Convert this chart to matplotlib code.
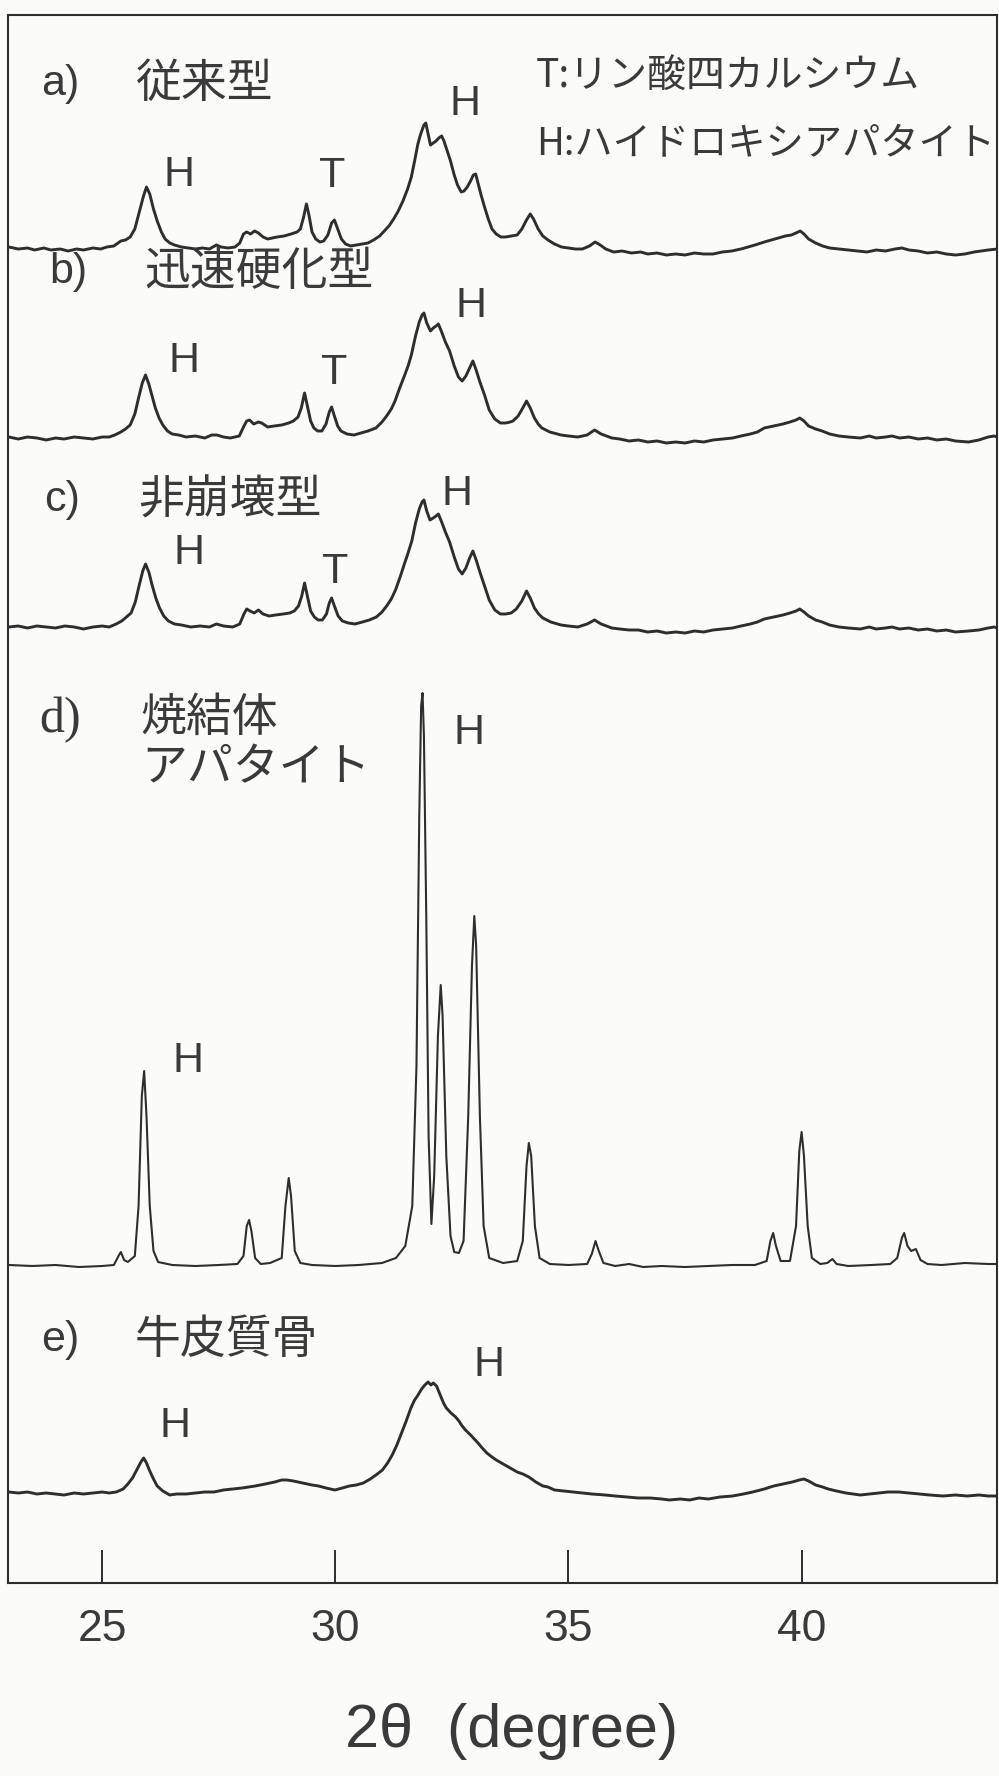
"""
XRD patterns of calcium phosphate cements, sintered apatite and bovine cortical bone
(2theta 23-44 deg), stacked traces with peak markers.
"""

import numpy as np
import matplotlib
matplotlib.use("Agg")
import matplotlib.pyplot as plt

plt.rcParams["font.family"] = ["Noto Sans CJK JP", "DejaVu Sans"]

INK = "#2e2e2e"
TXT = "#3a3a3a"

# --- traces: (2theta [deg], height above own baseline [px]) ---
a_pts = [(23.0, 2), (23.2, 0), (23.4, 1), (23.55, -1), (23.75, 1), (23.9, -1), (24.1, 0), (24.27, -2),
         (24.45, 0), (24.6, -1), (24.8, 1), (24.97, 0), (25.1, 2), (25.25, 3), (25.4, 8), (25.5, 9),
         (25.6, 12), (25.7, 20), (25.8, 38), (25.88, 52), (25.95, 62), (26.02, 55), (26.1, 40),
         (26.18, 28), (26.27, 17), (26.35, 10), (26.45, 6), (26.55, 4), (26.7, 2), (26.85, 1),
         (27.0, 0), (27.15, 1), (27.3, 0), (27.45, 4), (27.55, 2), (27.7, 1), (27.85, 2), (27.95, 6),
         (28.03, 15), (28.1, 17), (28.18, 15), (28.27, 18), (28.35, 16), (28.45, 12), (28.55, 10),
         (28.65, 11), (28.75, 12), (28.9, 13), (29.05, 15), (29.18, 17), (29.25, 20), (29.32, 32),
         (29.38, 45), (29.43, 35), (29.5, 17), (29.58, 10), (29.67, 7), (29.75, 8), (29.84, 14),
         (29.92, 26), (29.98, 29), (30.05, 20), (30.13, 10), (30.22, 5), (30.33, 3), (30.45, 4),
         (30.58, 5), (30.7, 6), (30.82, 9), (30.95, 13), (31.05, 18), (31.15, 23), (31.25, 30),
         (31.35, 38), (31.45, 48), (31.55, 60), (31.63, 72), (31.7, 88), (31.77, 105), (31.83, 115),
         (31.9, 124), (31.94, 126), (31.99, 115), (32.04, 104), (32.1, 106), (32.16, 108),
         (32.22, 111), (32.28, 113), (32.33, 108), (32.4, 98), (32.47, 88), (32.55, 74), (32.62, 64),
         (32.7, 57), (32.76, 58), (32.83, 62), (32.9, 68), (32.96, 74), (33.01, 75), (33.06, 66),
         (33.12, 55), (33.2, 42), (33.28, 30), (33.36, 20), (33.45, 15), (33.55, 12), (33.65, 12),
         (33.78, 13), (33.9, 14), (34.0, 20), (34.1, 29), (34.18, 35), (34.25, 30), (34.35, 20),
         (34.45, 13), (34.56, 9), (34.7, 5), (34.85, 2), (35.0, 1), (35.15, 0), (35.3, 0), (35.45, 3),
         (35.57, 7), (35.68, 4), (35.8, 0), (35.97, -3), (36.15, -2), (36.35, -4), (36.55, -3),
         (36.7, -5), (36.9, -4), (37.1, -6), (37.3, -5), (37.5, -6), (37.7, -4), (37.9, -5),
         (38.1, -5), (38.3, -3), (38.5, -2), (38.7, 0), (38.85, 2), (39.0, 4), (39.2, 7), (39.35, 9),
         (39.5, 11), (39.65, 13), (39.78, 14), (39.88, 16), (39.97, 18), (40.05, 15), (40.15, 10),
         (40.3, 6), (40.45, 3), (40.6, 1), (40.8, 0), (41.0, -1), (41.2, -2), (41.4, -3), (41.6, -1),
         (41.8, -2), (42.0, 0), (42.15, 1), (42.3, -1), (42.5, -2), (42.7, -4), (42.9, -3),
         (43.1, -5), (43.3, -6), (43.5, -5), (43.7, -3), (43.85, -2), (44.0, -1), (44.2, 0)]

b_pts = [(23.0, 1), (23.2, -1), (23.4, 1), (23.6, 0), (23.8, -2), (24.0, 0), (24.18, -1), (24.4, 1),
         (24.6, 0), (24.8, -1), (25.0, 1), (25.15, 1), (25.27, 3), (25.4, 6), (25.5, 9), (25.6, 13),
         (25.7, 24), (25.78, 40), (25.86, 55), (25.93, 63), (26.0, 54), (26.07, 42), (26.14, 30),
         (26.22, 20), (26.3, 13), (26.4, 7), (26.5, 4), (26.64, 3), (26.8, 1), (27.0, 2), (27.2, 0),
         (27.35, 3), (27.46, 3), (27.6, 1), (27.75, 0), (27.94, 2), (28.04, 12), (28.1, 17),
         (28.16, 18), (28.25, 14), (28.35, 16), (28.42, 15), (28.55, 11), (28.69, 12), (28.85, 13),
         (29.0, 15), (29.1, 17), (29.2, 21), (29.27, 30), (29.34, 45), (29.4, 32), (29.47, 17),
         (29.54, 10), (29.62, 7), (29.71, 7), (29.8, 14), (29.87, 26), (29.92, 31), (29.98, 22),
         (30.05, 12), (30.12, 7), (30.25, 4), (30.4, 3), (30.55, 5), (30.7, 7), (30.87, 10),
         (31.0, 16), (31.1, 22), (31.2, 29), (31.28, 37), (31.38, 50), (31.48, 62), (31.56, 72),
         (31.63, 83), (31.72, 102), (31.8, 116), (31.86, 123), (31.9, 125), (31.96, 115),
         (32.04, 107), (32.1, 110), (32.16, 112), (32.21, 114), (32.28, 106), (32.36, 96),
         (32.45, 87), (32.55, 72), (32.64, 61), (32.72, 57), (32.8, 62), (32.88, 70), (32.95, 77),
         (33.02, 68), (33.1, 56), (33.2, 43), (33.3, 28), (33.42, 19), (33.54, 15), (33.65, 15),
         (33.75, 16), (33.81, 17), (33.92, 22), (34.02, 30), (34.1, 37), (34.18, 30), (34.27, 20),
         (34.35, 14), (34.43, 10), (34.6, 6), (34.84, 3), (35.0, 2), (35.2, 1), (35.4, 3),
         (35.56, 8), (35.7, 4), (35.93, 0), (36.1, -1), (36.3, -3), (36.5, -2), (36.7, -4),
         (36.9, -3), (37.1, -5), (37.3, -4), (37.5, -5), (37.7, -3), (37.9, -4), (38.1, -2),
         (38.3, -1), (38.52, 0), (38.7, 2), (38.9, 4), (39.05, 6), (39.2, 10), (39.4, 12),
         (39.6, 14), (39.75, 16), (39.88, 18), (39.96, 20), (40.05, 17), (40.15, 12), (40.3, 9),
         (40.44, 7), (40.6, 4), (40.8, 2), (41.0, 1), (41.26, 0), (41.45, 2), (41.6, 0), (41.8, 1),
         (41.94, 2), (42.1, 0), (42.3, 1), (42.5, -1), (42.7, 0), (42.9, -2), (43.1, -1),
         (43.3, -3), (43.58, -4), (43.8, -2), (44.0, 1), (44.13, 2), (44.2, 1)]

c_pts = [(23.0, 0), (23.2, 1), (23.4, -1), (23.6, 1), (23.8, 0), (24.0, -1), (24.2, 1), (24.4, 0),
         (24.6, -2), (24.8, 0), (25.0, 1), (25.15, 0), (25.3, 3), (25.42, 6), (25.52, 10),
         (25.62, 14), (25.71, 25), (25.79, 41), (25.87, 56), (25.93, 63), (26.0, 55), (26.07, 42),
         (26.15, 29), (26.23, 19), (26.32, 11), (26.42, 6), (26.55, 3), (26.7, 2), (26.9, 0),
         (27.1, 1), (27.3, 0), (27.45, 3), (27.6, 1), (27.8, 0), (27.95, 3), (28.04, 13),
         (28.1, 18), (28.17, 16), (28.26, 14), (28.35, 17), (28.45, 13), (28.58, 11), (28.72, 12),
         (28.88, 13), (29.02, 14), (29.12, 16), (29.21, 21), (29.28, 31), (29.34, 44), (29.4, 31),
         (29.47, 16), (29.55, 10), (29.63, 7), (29.72, 7), (29.81, 13), (29.87, 24), (29.92, 29),
         (29.98, 21), (30.06, 11), (30.15, 6), (30.28, 4), (30.42, 3), (30.58, 5), (30.73, 7),
         (30.88, 10), (31.0, 15), (31.1, 21), (31.2, 28), (31.29, 37), (31.39, 50), (31.48, 63),
         (31.56, 74), (31.64, 86), (31.72, 104), (31.8, 118), (31.86, 125), (31.9, 127),
         (31.96, 116), (32.03, 107), (32.1, 109), (32.16, 111), (32.21, 113), (32.28, 105),
         (32.36, 95), (32.45, 85), (32.55, 70), (32.64, 58), (32.72, 53), (32.8, 59), (32.88, 69),
         (32.95, 76), (33.02, 67), (33.1, 55), (33.2, 41), (33.3, 27), (33.42, 17), (33.54, 13),
         (33.65, 13), (33.77, 14), (33.88, 18), (34.0, 26), (34.1, 36), (34.18, 29), (34.27, 19),
         (34.36, 13), (34.45, 9), (34.62, 5), (34.84, 2), (35.0, 1), (35.2, 0), (35.4, 3),
         (35.56, 7), (35.7, 3), (35.93, -1), (36.1, -2), (36.3, -3), (36.5, -3), (36.7, -5),
         (36.9, -4), (37.1, -6), (37.3, -5), (37.5, -6), (37.7, -4), (37.9, -5), (38.1, -3),
         (38.3, -2), (38.52, -1), (38.7, 1), (38.9, 3), (39.05, 5), (39.2, 8), (39.4, 10),
         (39.6, 12), (39.75, 14), (39.88, 16), (39.96, 18), (40.05, 15), (40.15, 11), (40.3, 7),
         (40.44, 5), (40.6, 2), (40.8, 0), (41.0, -1), (41.26, -2), (41.45, 0), (41.6, -2),
         (41.8, -1), (41.94, 0), (42.1, -2), (42.3, -1), (42.5, -3), (42.7, -2), (42.9, -4),
         (43.1, -3), (43.3, -5), (43.58, -4), (43.8, -3), (44.0, -1), (44.13, 0), (44.2, -1)]

d_pts = [(23.0, 1), (23.5, 0), (24.0, 1), (24.5, -1), (25.0, 0), (25.25, 1), (25.35, 10), (25.4, 14),
         (25.47, 6), (25.55, 4), (25.7, 10), (25.78, 60), (25.85, 170), (25.9, 195), (25.95, 150),
         (26.02, 60), (26.1, 15), (26.2, 4), (26.5, 1), (27.0, 0), (27.5, 1), (27.9, 2), (28.03, 10),
         (28.1, 40), (28.15, 46), (28.2, 35), (28.28, 8), (28.4, 2), (28.6, 3), (28.85, 8),
         (28.93, 60), (29.0, 88), (29.05, 70), (29.13, 15), (29.25, 3), (29.5, 1), (30.0, 0),
         (30.5, 1), (31.0, 3), (31.3, 8), (31.5, 20), (31.65, 60), (31.74, 200), (31.8, 450),
         (31.84, 560), (31.87, 573), (31.9, 530), (31.95, 350), (32.0, 130), (32.06, 42),
         (32.12, 90), (32.2, 230), (32.26, 281), (32.3, 250), (32.38, 110), (32.47, 30),
         (32.55, 14), (32.65, 13), (32.75, 25), (32.85, 150), (32.93, 300), (32.98, 350),
         (33.02, 320), (33.1, 150), (33.18, 40), (33.3, 8), (33.6, 3), (33.9, 5), (34.02, 25),
         (34.1, 100), (34.15, 123), (34.2, 110), (34.28, 40), (34.38, 8), (34.6, 2), (35.0, 1),
         (35.4, 2), (35.5, 12), (35.58, 25), (35.65, 15), (35.75, 3), (36.0, 0), (36.3, 2),
         (36.6, -1), (37.0, 0), (37.5, -1), (38.0, 0), (38.5, 1), (39.0, 1), (39.25, 5),
         (39.33, 25), (39.39, 33), (39.45, 20), (39.55, 5), (39.75, 5), (39.88, 40), (39.95, 115),
         (40.0, 134), (40.05, 110), (40.13, 40), (40.22, 8), (40.4, 2), (40.55, 3), (40.66, 7),
         (40.75, 2), (41.0, 0), (41.5, 1), (41.9, 2), (42.05, 8), (42.15, 28), (42.2, 33),
         (42.27, 20), (42.35, 15), (42.45, 17), (42.55, 6), (42.7, 2), (43.0, 1), (43.5, 3),
         (44.0, 2), (44.2, 2)]

e_pts = [(23.0, 1), (23.2, 0), (23.4, 1), (23.6, -1), (23.8, 0), (24.0, -1), (24.18, -2), (24.4, 0),
         (24.6, -1), (24.8, 0), (25.0, 1), (25.15, 0), (25.3, 1), (25.45, 4), (25.55, 9), (25.65, 15),
         (25.75, 24), (25.83, 31), (25.89, 35), (25.95, 30), (26.02, 22), (26.1, 14), (26.18, 7),
         (26.3, 2), (26.45, -2), (26.6, -1), (26.8, -1), (27.0, 0), (27.2, 1), (27.4, 1), (27.6, 3),
         (27.8, 4), (28.0, 5), (28.28, 7), (28.5, 9), (28.7, 11), (28.85, 13), (28.96, 13),
         (29.1, 12), (29.3, 10), (29.5, 8), (29.64, 7), (29.8, 5), (29.99, 3), (30.15, 5),
         (30.3, 7), (30.45, 8), (30.6, 10), (30.75, 14), (30.9, 19), (31.01, 23), (31.12, 30),
         (31.22, 38), (31.32, 48), (31.42, 60), (31.52, 72), (31.62, 85), (31.7, 93), (31.76, 97),
         (31.85, 104), (31.92, 108), (31.99, 111), (32.05, 108), (32.1, 110), (32.17, 107),
         (32.25, 98), (32.32, 90), (32.38, 85), (32.48, 80), (32.58, 76), (32.65, 72), (32.72, 67),
         (32.79, 63), (32.9, 58), (33.0, 53), (33.06, 50), (33.15, 45), (33.25, 40), (33.33, 37),
         (33.45, 33), (33.6, 29), (33.75, 25), (33.9, 21), (34.02, 19), (34.15, 16), (34.3, 11),
         (34.45, 7), (34.56, 6), (34.7, 3), (34.9, 2), (35.1, 1), (35.3, 0), (35.5, -1),
         (35.79, -2), (36.0, -3), (36.25, -4), (36.5, -5), (36.75, -5), (37.0, -6), (37.16, -7),
         (37.4, -6), (37.6, -7), (37.8, -5), (38.0, -6), (38.25, -4), (38.52, -3), (38.75, -1),
         (38.95, 1), (39.2, 4), (39.4, 7), (39.6, 9), (39.8, 11), (39.95, 13), (40.05, 14),
         (40.15, 12), (40.3, 8), (40.45, 6), (40.57, 4), (40.75, 2), (40.95, 0), (41.1, -1),
         (41.26, -2), (41.45, -1), (41.65, 0), (41.85, 1), (42.08, 1), (42.3, 0), (42.5, -1),
         (42.75, -2), (43.03, -3), (43.3, -2), (43.55, -3), (43.8, -2), (44.0, -3), (44.2, -3)]

# stacking: baseline of each trace (px above the bottom frame)
offsets = {"a": 1334, "b": 1145, "c": 956, "d": 317, "e": 90}
traces = {"a": a_pts, "b": b_pts, "c": c_pts, "d": d_pts, "e": e_pts}

tick_vals = [25, 30, 35, 40]
tick_labels = ["25", "30", "35", "40"]

# sample names: (letter, name, y [px])
sample_labels = [("a)", "従来型", 1499), ("b)", "迅速硬化型", 1311), ("c)", "非崩壊型", 1083),
                 ("e)", "牛皮質骨", 243)]
letter_x = {"a)": 23.69, "b)": 23.86, "c)": 23.75, "e)": 23.69}
name_x = {"a)": 25.70, "b)": 25.90, "c)": 25.77, "e)": 25.70}

# phase markers: (text, x [deg], y [px])
peak_marks = [("H", 26.65, 1408), ("T", 29.93, 1407), ("H", 32.78, 1479),
              ("H", 26.75, 1222), ("T", 29.97, 1210), ("H", 32.91, 1277),
              ("H", 26.86, 1030), ("T", 29.99, 1011), ("H", 32.61, 1089),
              ("H", 32.86, 850), ("H", 26.84, 522),
              ("H", 26.56, 157), ("H", 33.29, 218)]

legend_lines = [("T:リン酸四カルシウム", 34.30, 1507, 28), ("H:ハイドロキシアパタイト", 34.30, 1438, 27.5)]


fig = plt.figure(figsize=(9.99, 17.76), dpi=100, facecolor="#fbfbf9")
ax = fig.add_axes([8 / 999, 1 - 1583 / 1776, 989 / 999, 1568 / 1776])
ax.set_facecolor("#fbfbf9")

for key, pts in traces.items():
    arr = np.array(pts, dtype=float)
    lw = 1.5 if key == "d" else 2.1
    ax.plot(arr[:, 0], arr[:, 1] + offsets[key], color=INK, lw=lw, solid_joinstyle="round")

ax.set_xlim(22.98, 44.19)
ax.set_ylim(0, 1568)
ax.set_yticks([])
ax.set_xticks(tick_vals)
ax.set_xticklabels(tick_labels, fontfamily="Liberation Sans", fontsize=32, color=TXT)
ax.tick_params(axis="x", direction="in", length=24, width=1.4, color=INK, pad=19)
for side in ("left", "right", "top", "bottom"):
    ax.spines[side].set_color(INK)
    ax.spines[side].set_linewidth(1.5)

for letter, name, y in sample_labels:
    ax.text(letter_x[letter], y, letter, fontfamily="Liberation Sans", fontsize=31,
            color=TXT, ha="left", va="center")
    ax.text(name_x[letter], y, name, fontsize=33, color=TXT, ha="left", va="center")

# sintered apatite label uses a serif face in the original
ax.text(23.64, 863, "d)", fontfamily="Liberation Serif", fontsize=36, color=TXT,
        ha="left", va="center")
ax.text(25.83, 865, "焼結体", fontsize=33, color=TXT, ha="left", va="center")
ax.text(25.83, 815, "アパタイト", fontsize=33, color=TXT, ha="left", va="center")

for s, x, y in peak_marks:
    ax.text(x, y, s, fontfamily="Liberation Sans", fontsize=31, color=TXT,
            ha="center", va="center")

for s, x, y, fs in legend_lines:
    ax.text(x, y, s, fontsize=fs, color=TXT, ha="left", va="center")

fig.text(0.512, 1 - 1731 / 1776, "2θ  (degree)", fontfamily="Liberation Sans",
         fontsize=44, color=TXT, ha="center", va="center")

fig.savefig("out.png", dpi=100, facecolor=fig.get_facecolor())
